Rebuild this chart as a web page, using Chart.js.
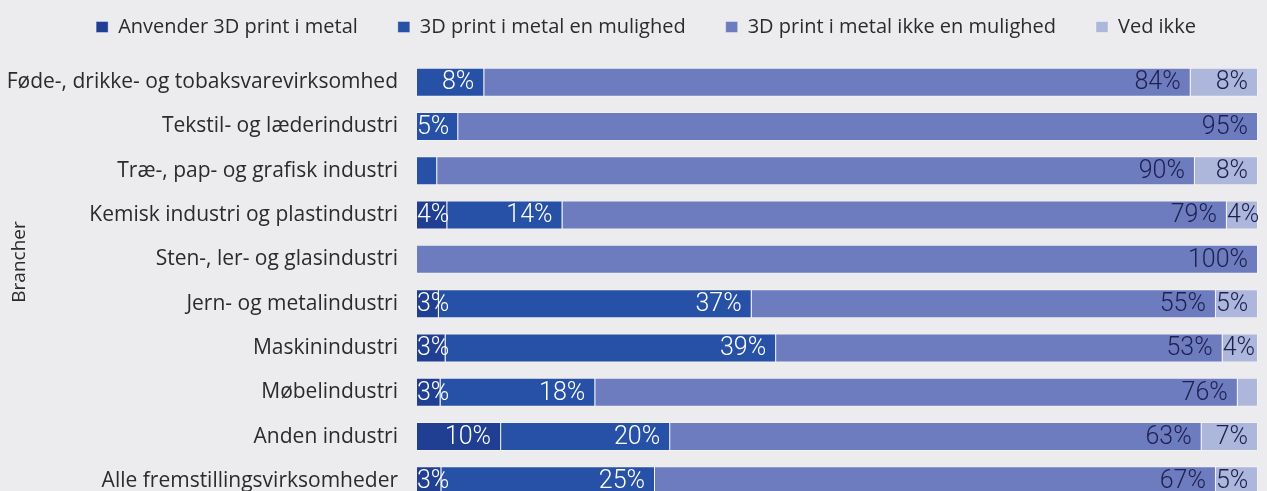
<!DOCTYPE html>
<html>
<head>
<meta charset="utf-8">
<script src="https://cdn.jsdelivr.net/npm/chart.js@4.4.0/dist/chart.umd.min.js"></script>
<style>
  html, body { margin: 0; padding: 0; background: #ececee; overflow: hidden; }
  #wrap { width: 1267px; height: 503px; }
</style>
</head>
<body>
<div id="wrap"><canvas id="brancheChart"></canvas></div>
<script>
const categories = [
    'Føde-, drikke- og tobaksvarevirksomhed',
    'Tekstil- og læderindustri',
    'Træ-, pap- og grafisk industri',
    'Kemisk industri og plastindustri',
    'Sten-, ler- og glasindustri',
    'Jern- og metalindustri',
    'Maskinindustri',
    'Møbelindustri',
    'Anden industri',
    'Alle fremstillingsvirksomheder'
];
const seriesNames = [
    'Anvender 3D print i metal',
    '3D print i metal en mulighed',
    '3D print i metal ikke en mulighed',
    'Ved ikke'
];
// procent af virksomhederne
const anvender = [null, null, null, 3.6, null, 2.6, 3.4, 2.8, 10, 2.9];
const mulighed = [8, 4.9, 2.4, 13.7, null, 37.2, 39.3, 18.4, 20.1, 25.4];
const ikkeMulighed = [84, 95.1, 90.1, 79, 100, 55.2, 53.1, 76.4, 63.2, 66.7];
const vedIkke = [8, null, 7.5, 3.7, null, 5, 4.2, 2.4, 6.7, 5];

const colors = ['#203f93', '#2651a6', '#6d7cbf', '#adb7dc'];
const labelColors = ['#ffffff', '#ffffff', '#1d1f50', '#1d1f50'];

const FONT = '"Open Sans", Roboto, sans-serif';
const NUMFONT = 'Roboto, "Open Sans", sans-serif';

// procent-tekst i hver bjælke
const barLabels = {
    id: 'barLabels',
    afterDatasetsDraw(chart) {
        const ctx = chart.ctx;
        ctx.save();
        ctx.font = '300 25px ' + NUMFONT;
        ctx.textBaseline = 'middle';
        ctx.textAlign = 'left';
        chart.data.datasets.forEach((ds, i) => {
            const meta = chart.getDatasetMeta(i);
            meta.data.forEach((bar, j) => {
                const v = ds.data[j];
                if (v == null || v < 2.5) return;
                const txt = Math.round(v) + '%';
                const w = ctx.measureText(txt).width;
                const left = Math.min(bar.x, bar.base);
                const right = Math.max(bar.x, bar.base);
                const x = Math.max(left, right - 10 - w);
                ctx.fillStyle = labelColors[i];
                ctx.fillText(txt, x, bar.y + 1);
            });
        });
        ctx.restore();
    }
};

// aksetitel + placering af forklaringen
const axisTitle = {
    id: 'axisTitle',
    afterInit(chart) {
        const lg = chart.legend;
        const fit = lg.fit;
        lg.fit = function() {
            fit.call(this);
            this.height = 83;
        };
    },
    afterLayout(chart) {
        chart.legend.left += 17;
        chart.legend.right += 17;
    },
    afterDraw(chart) {
        const ctx = chart.ctx;
        ctx.save();
        ctx.translate(20, 262);
        ctx.rotate(-Math.PI / 2);
        ctx.font = '19px ' + FONT;
        ctx.fillStyle = '#2b2b2b';
        ctx.textAlign = 'center';
        ctx.textBaseline = 'middle';
        ctx.fillText('Brancher', 0, 0);
        ctx.restore();
    }
};

const allSeries = [anvender, mulighed, ikkeMulighed, vedIkke];

const ctx = document.getElementById('brancheChart').getContext('2d');
const brancheChart = new Chart(ctx, {
    type: 'bar',
    data: {
        labels: categories,
        datasets: allSeries.map((d, i) => ({
            label: seriesNames[i],
            data: d,
            backgroundColor: colors[i],
            borderColor: 'rgba(255,255,255,0.35)',
            borderWidth: 1,
            categoryPercentage: 0.655,
            barPercentage: 1
        }))
    },
    options: {
        indexAxis: 'y',
        responsive: true,
        maintainAspectRatio: false,
        animation: false,
        layout: { padding: { top: -23, right: 9, left: 0, bottom: 0 } },
        scales: {
            x: {
                stacked: true,
                min: 0,
                max: 100,
                display: false
            },
            y: {
                stacked: true,
                grid: { display: false, drawTicks: false },
                border: { display: false },
                ticks: {
                    padding: 19,
                    color: '#2b2b2b',
                    font: { family: FONT, size: 21 }
                },
                afterFit(scale) {
                    scale.width = 417;
                    scale.paddingTop = 0;
                    scale.paddingBottom = 0;
                }
            }
        },
        plugins: {
            legend: {
                position: 'top',
                labels: {
                    boxWidth: 12,
                    boxHeight: 11,
                    padding: 40,
                    color: '#2b2b2b',
                    font: { family: FONT, size: 20 }
                }
            },
            tooltip: { enabled: false }
        }
    },
    plugins: [barLabels, axisTitle]
});
</script>
</body>
</html>
